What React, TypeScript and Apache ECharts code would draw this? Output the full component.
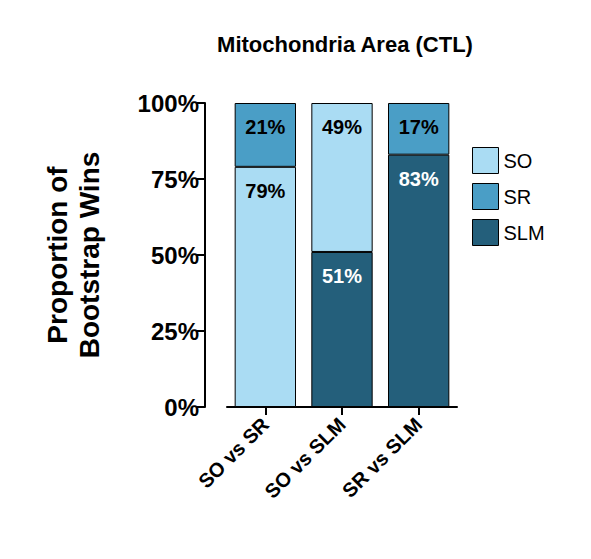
import React, { useEffect, useRef } from 'react';
import * as echarts from 'echarts';

const categories = ['SO vs SR', 'SO vs SLM', 'SR vs SLM'];
const sloValues = [0, 51, 83];
const soValues = [79, 49, 0];
const srValues = [21, 0, 17];
const yTicks = [0, 25, 50, 75, 100];

const toData = (arr: number[]) => arr.map((v) => (v === 0 ? '-' : v));

const App: React.FC = () => {
  const chartRef = useRef<HTMLDivElement>(null);

  useEffect(() => {
    if (!chartRef.current) return;
    const chart = echarts.init(chartRef.current, undefined, { renderer: 'svg' });
    const font = 'Arial, Liberation Sans, sans-serif';
    const label = (color: string) => ({
      show: true,
      position: 'insideTop' as const,
      distance: 14,
      formatter: '{c}%',
      color,
      fontWeight: 'bold' as const,
      fontSize: 20,
      fontFamily: font,
    });
    chart.setOption({
      animation: false,
      title: {
        text: 'Mitochondria Area (CTL)',
        left: 340,
        top: 28,
        textAlign: 'center',
        textStyle: { fontSize: 22, fontWeight: 'bold', fontFamily: font, color: '#000' },
      },
      legend: {
        orient: 'vertical',
        left: 467,
        top: 142,
        icon: 'rect',
        itemWidth: 26,
        itemHeight: 26,
        itemGap: 9,
        data: ['SO', 'SR', 'SLM'],
        textStyle: { fontSize: 20, fontFamily: font, color: '#000' },
        itemStyle: { borderColor: '#000', borderWidth: 1 },
      },
      grid: { left: 227, right: 134, top: 103, bottom: 152 },
      xAxis: {
        type: 'category',
        data: categories,
        axisLine: { lineStyle: { color: '#000', width: 2 } },
        axisTick: { show: true, alignWithLabel: true, length: 8, lineStyle: { width: 2 } },
        axisLabel: {
          rotate: 45,
          interval: 0,
          margin: 14,
          fontSize: 20,
          fontWeight: 'bold',
          fontFamily: font,
          color: '#000',
        },
      },
      yAxis: {
        type: 'value',
        min: 0,
        max: 100,
        interval: 25,
        offset: 22,
        name: 'Proportion of\nBootstrap Wins',
        nameLocation: 'middle',
        nameGap: 100,
        nameTextStyle: { fontSize: 28, fontWeight: 'bold', fontFamily: font, color: '#000', lineHeight: 32 },
        axisLine: { show: true, lineStyle: { color: '#000', width: 2 } },
        axisTick: { show: true, length: 8, lineStyle: { width: 2 } },
        splitLine: { show: false },
        axisLabel: {
          formatter: (v: number) => (yTicks.includes(v) ? `${v}%` : ''),
          fontSize: 24,
          fontWeight: 'bold',
          fontFamily: font,
          color: '#000',
          margin: 6,
        },
      },
      series: [
        {
          name: 'SLM',
          type: 'bar',
          stack: 'a',
          barWidth: '80%',
          data: toData(sloValues),
          itemStyle: { color: '#245f7b', borderColor: '#000', borderWidth: 1 },
          label: label('#fff'),
        },
        {
          name: 'SO',
          type: 'bar',
          stack: 'a',
          data: toData(soValues),
          itemStyle: { color: '#aadcf3', borderColor: '#000', borderWidth: 1 },
          label: label('#000'),
        },
        {
          name: 'SR',
          type: 'bar',
          stack: 'a',
          data: toData(srValues),
          itemStyle: { color: '#4a9ec6', borderColor: '#000', borderWidth: 1 },
          label: label('#000'),
        },
      ],
    });
    return () => chart.dispose();
  }, []);

  return <div ref={chartRef} style={{ position: 'absolute', left: 0, top: 0, width: 591, height: 559, background: '#fff' }} />;
};

export default App;
